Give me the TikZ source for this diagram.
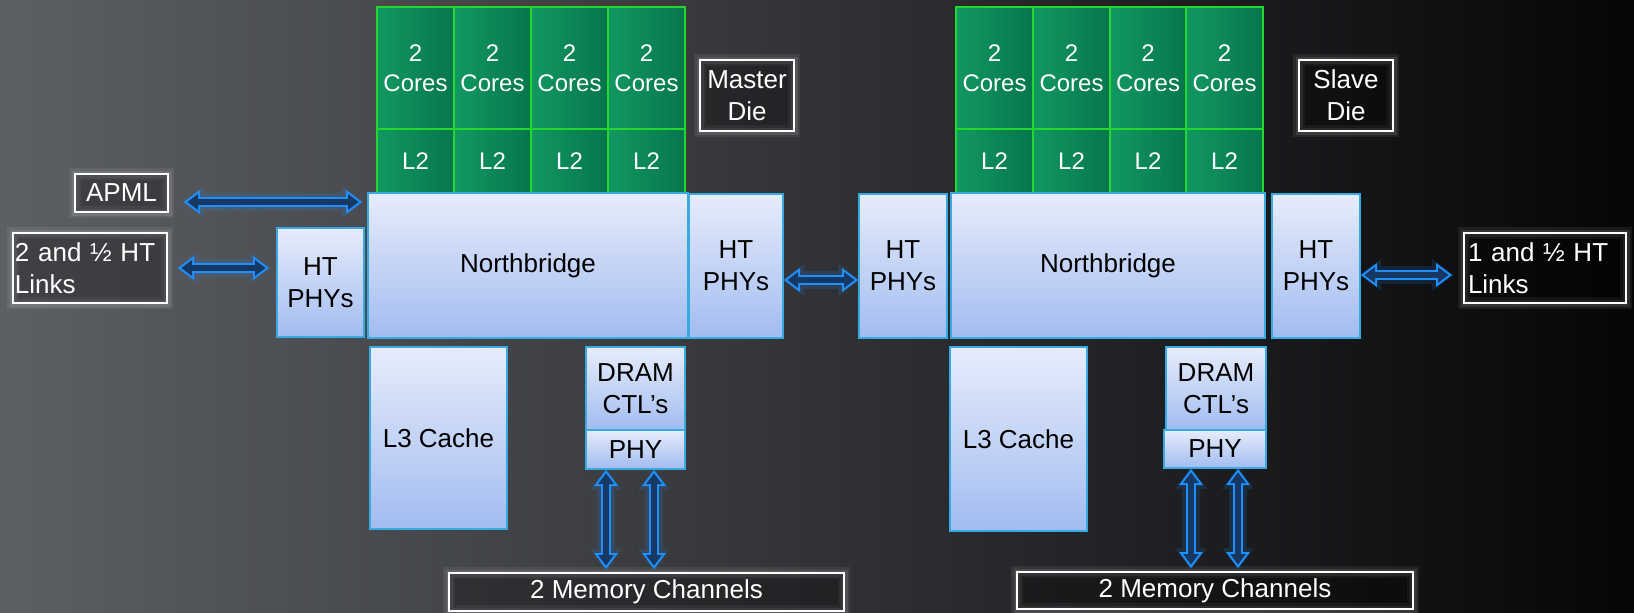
\documentclass[tikz,border=0pt]{standalone}
\usepackage{fontspec}
\setmainfont{Liberation Sans}
\usetikzlibrary{arrows.meta,calc}

\definecolor{hlblue}{RGB}{30,144,255}
\definecolor{arrin}{RGB}{24,56,100}
\definecolor{bxtop}{RGB}{230,236,251}
\definecolor{bxbot}{RGB}{162,188,240}
\definecolor{bxedge}{RGB}{55,170,225}
\definecolor{grnfill}{RGB}{6,118,76}
\definecolor{grnlite}{RGB}{18,152,98}
\definecolor{grnedge}{RGB}{35,215,45}
\definecolor{bgleft}{RGB}{92,95,100}
\definecolor{bgmid}{RGB}{36,38,41}
\definecolor{bgright}{RGB}{6,6,8}

\newcommand\hollowarrow[2]{%
  \draw[hlblue, line width=18pt, opacity=0.15, shorten <=-2pt, shorten >=-2pt,
    {Triangle[length=22pt,width=32pt,line width=0pt]}-{Triangle[length=22pt,width=32pt,line width=0pt]}] #1 -- #2;
  \draw[hlblue, line width=10pt,
    {Triangle[length=16pt,width=24pt,line width=0pt]}-{Triangle[length=16pt,width=24pt,line width=0pt]}] #1 -- #2;
  \draw[arrin, line width=6pt, shorten <=3.4pt, shorten >=3.4pt,
    {Triangle[length=10.6pt,width=16pt,line width=0pt]}-{Triangle[length=10.6pt,width=16pt,line width=0pt]}] #1 -- #2;}

\begin{document}
\begin{tikzpicture}[x=1pt,y=-1pt,
  wh/.style 2 args={minimum width=#1pt, minimum height=#2pt},
  chip/.style={draw=bxedge, line width=2pt, top color=bxtop, bottom color=bxbot,
    inner sep=0pt, align=center, text=black, font=\fontsize{26}{32}\selectfont},
  core/.style={draw=grnedge, line width=2pt, left color=grnlite, right color=grnfill,
    inner sep=0pt, align=center, text=white, font=\fontsize{24}{30}\selectfont, minimum width=77pt},
  lbl/.style={draw=white, line width=2pt, fill=black, fill opacity=0.3, text opacity=1,
    text=white, inner sep=0pt, font=\fontsize{26}{32}\selectfont,
    preaction={draw=white, line width=12pt, opacity=0.07},
    preaction={draw=white, line width=7pt, opacity=0.10}},
]
\useasboundingbox (0,0) rectangle (1634,613);
\shade[left color=bgleft, middle color=bgmid, right color=bgright] (0,0) rectangle (1634,613);

% ---------- master die cores ----------
\node[core, minimum height=123pt] (mc1) at (415.5,68) {2\\Cores};
\node[core, minimum height=123pt] (mc2) at (492.5,68) {2\\Cores};
\node[core, minimum height=123pt] (mc3) at (569.5,68) {2\\Cores};
\node[core, minimum height=123pt] (mc4) at (646.5,68) {2\\Cores};
\node[core, minimum height=65pt] (ml1) at (415.5,161) {L2};
\node[core, minimum height=65pt] (ml2) at (492.5,161) {L2};
\node[core, minimum height=65pt] (ml3c) at (569.5,161) {L2};
\node[core, minimum height=65pt] (ml4) at (646.5,161) {L2};

% ---------- slave die cores ----------
\node[core, minimum height=123pt] (sc1) at (994.5,68) {2\\Cores};
\node[core, minimum height=123pt] (sc2) at (1071.5,68) {2\\Cores};
\node[core, minimum height=123pt] (sc3) at (1148,68) {2\\Cores};
\node[core, minimum height=123pt] (sc4) at (1224.5,68) {2\\Cores};
\node[core, minimum height=65pt] (sl1) at (994.5,161) {L2};
\node[core, minimum height=65pt] (sl2) at (1071.5,161) {L2};
\node[core, minimum height=65pt] (sl3c) at (1148,161) {L2};
\node[core, minimum height=65pt] (sl4) at (1224.5,161) {L2};

% ---------- labels ----------
\node[lbl, wh={94}{71}, align=center] (mdie) at (747,95.5) {Master\\Die};
\node[lbl, wh={94}{71}, align=center] (sdie) at (1346,95.5) {Slave\\Die};
\node[lbl, wh={93}{38}] (apml) at (121.5,193) {APML};
\node[lbl, wh={154}{70}, align=left, text width=150pt] (lnk2) at (90,268) {2 and ½ HT\\Links};
\node[lbl, wh={162}{70}, align=left, text width=154pt] (lnk1) at (1545,268) {1 and ½ HT\\Links};
\node[lbl, wh={395}{38}] (mmem) at (646.5,592) {2 Memory Channels};
\node[lbl, wh={396}{37}] (smem) at (1215,590.5) {2 Memory Channels};

% ---------- master chip blocks ----------
\node[chip, wh={320}{145}] (mnb) at (528,265.5) {Northbridge};
\node[chip, wh={87}{109}] (mlht) at (320.5,282.5) {HT\\PHYs};
\node[chip, wh={94}{144}] (mrht) at (736,266) {HT\\PHYs};
\node[chip, wh={137}{182}] (ml3) at (438.5,438) {L3 Cache};
\node[chip, wh={99}{83}] (mdram) at (635.5,388.5) {DRAM\\CTL’s};
\node[chip, wh={99}{39}] (mphy) at (635.5,449.5) {PHY};

% ---------- slave chip blocks ----------
\node[chip, wh={88}{144}] (slht) at (903,266) {HT\\PHYs};
\node[chip, wh={314}{145}] (snb) at (1108,265.5) {Northbridge};
\node[chip, wh={88}{144}] (srht) at (1316,266) {HT\\PHYs};
\node[chip, wh={137}{184}] (sl3) at (1018.5,439) {L3 Cache};
\node[chip, wh={100}{83}] (sdram) at (1216,388.5) {DRAM\\CTL’s};
\node[chip, wh={102}{38}] (sphy) at (1215,449) {PHY};

% ---------- connectors ----------
\coordinate (a1s) at ($(apml.east)+(15,9)$);
\coordinate (a1e) at ($(mnb.west |- apml.east)+(-5,9)$);
\hollowarrow{(a1s)}{(a1e)}

\coordinate (a2s) at ($(lnk2.east)+(10,0)$);
\coordinate (a2e) at ($(mlht.west |- lnk2.east)+(-7,0)$);
\hollowarrow{(a2s)}{(a2e)}

\coordinate (a3s) at ($(mrht.east)+(0,14)$);
\coordinate (a3e) at ($(slht.west)+(0,14)$);
\hollowarrow{(a3s)}{(a3e)}

\coordinate (a4s) at ($(srht.east)+(0,9)$);
\coordinate (a4e) at ($(lnk1.west)+(-11,7)$);
\hollowarrow{(a4s)}{(a4e)}

\coordinate (m1) at ($(mphy.south west)+(21,0)$);
\coordinate (m2) at ($(mphy.south west)+(69,0)$);
\coordinate (m1e) at ($(m1 |- mmem.north)+(0,-3)$);
\coordinate (m2e) at ($(m2 |- mmem.north)+(0,-3)$);
\hollowarrow{(m1)}{(m1e)}
\hollowarrow{(m2)}{(m2e)}

\coordinate (s1) at ($(sphy.south west)+(28,0)$);
\coordinate (s2) at ($(sphy.south west)+(75,0)$);
\coordinate (s1e) at ($(s1 |- smem.north)+(0,-3)$);
\coordinate (s2e) at ($(s2 |- smem.north)+(0,-3)$);
\hollowarrow{(s1)}{(s1e)}
\hollowarrow{(s2)}{(s2e)}
\end{tikzpicture}
\end{document}
